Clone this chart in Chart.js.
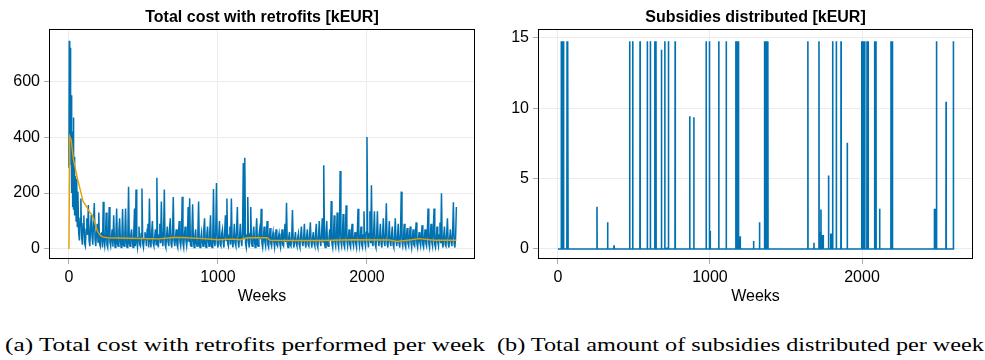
<!DOCTYPE html>
<html>
<head>
<meta charset="utf-8">
<script src="https://cdn.jsdelivr.net/npm/chart.js@4.4.0/dist/chart.umd.min.js"></script>
<style>
  body { margin: 0; width: 985px; height: 360px; background: #fff; overflow: hidden; position: relative; }
  .panel { position: absolute; top: 0; height: 310px; }
  #left { left: 0; width: 490px; }
  #right { left: 490px; width: 495px; }
  .caption { position: absolute; top: 334px; font-family: "Liberation Serif", serif; font-size: 19px; white-space: nowrap; transform-origin: 0 0; color: #000; }
</style>
</head>
<body>
<div class="panel" id="left"><canvas id="costChart"></canvas></div>
<div class="panel" id="right"><canvas id="subsidyChart"></canvas></div>
<div class="caption" style="left:5px" data-w="480">(a) Total cost with retrofits performed per week</div>
<div class="caption" style="left:497px" data-w="487">(b) Total amount of subsidies distributed per week</div>
<script>
const blue = "#0072b2";
const orange = "#e69f00";
const sans = "'Liberation Sans', Arial, sans-serif";

// first weeks are busy, so they get their own finer list
const earlyWeeks = [0, 2, 4, 6, 8, 10, 12, 14, 16, 18, 20, 22, 24, 26, 28, 30, 32, 34, 36, 38, 40, 44, 48, 52, 56];
const earlyCost = [290, 745, 300, 610, 420, 720, 380, 450, 250, 550, 200, 420, 150, 380, 180, 470, 140, 300, 160, 330, 120, 260, 100, 250, 80];

// cost from week 60 on, one value every 5 weeks (one row = 200 weeks)
const costStart = 60;
const costStep = 5;
const cost = [
  205, 60, 30, 110, 180, 40, 15, 90, 120, 20, 10, 70, 110, 50, 157, 30, 10, 80, 121, 45, 15, 100, 164, 35, 10, 60, 90, 25,
  130, 20, 10, 55, 60, 5, 169, 30, 10, 45, 130, 15, 5, 60, 150, 25, 10, 40, 70, 8, 120, 35, 5, 50, 145, 20, 10, 65, 110, 30, 5, 40, 143, 15, 10, 55, 145, 25, 5, 45,
  222, 20, 10, 50, 70, 30, 5, 60, 145, 10, 213, 25, 5, 40, 80, 15, 10, 55, 216, 20, 5, 35, 60, 45, 10, 70, 90, 5, 180, 30, 5, 60, 100, 20, 10, 40, 70, 15, 255, 30,
  5, 50, 90, 20, 170, 35, 10, 60, 213, 15, 5, 45, 80, 25, 10, 70, 110, 20, 5, 55, 186, 30, 10, 40, 70, 15, 5, 60, 100, 25, 10, 45, 187, 20, 5, 50, 80, 30, 10, 40,
  150, 25, 181, 15, 10, 60, 160, 30, 5, 45, 70, 20, 10, 55, 170, 15, 5, 40, 60, 25, 10, 70, 110, 20, 5, 50, 80, 30, 10, 60, 120, 15, 5, 45, 214, 25, 10, 60, 236, 20,
  5, 45, 100, 15, 10, 55, 70, 25, 5, 60, 120, 30, 180, 20, 10, 50, 80, 15, 180, 35, 5, 40, 90, 20, 10, 65, 150, 25, 5, 45, 90, 30, 10, 60, 307, 40, 326, 20, 5, 50,
  186, 25, 5, 55, 150, 20, 10, 45, 80, 30, 5, 60, 110, 15, 10, 50, 70, 35, 144, 20, 5, 40, 80, 25, 10, 55, 100, 15, 5, 45, 75, 20, 10, 40, 60, 25, 5, 35, 70, 15,
  10, 40, 55, 20, 5, 35, 70, 15, 10, 50, 90, 25, 165, 20, 5, 40, 60, 15, 10, 45, 139, 25, 5, 35, 60, 20, 10, 40, 55, 15, 5, 50, 80, 25, 10, 40, 90, 20, 5, 45,
  70, 15, 10, 50, 95, 25, 5, 40, 60, 20, 10, 55, 90, 15, 5, 45, 100, 30, 10, 50, 110, 25, 299, 20, 5, 55, 100, 15, 10, 40, 70, 30, 171, 20, 5, 45, 120, 25, 10, 50,
  130, 20, 5, 60, 279, 25, 10, 45, 125, 15, 5, 55, 156, 30, 10, 40, 70, 15, 5, 50, 90, 25, 10, 40, 60, 20, 5, 55, 144, 30, 10, 45, 80, 15, 5, 50, 135, 25, 10, 60,
  400, 30, 5, 55, 135, 20, 228, 25, 10, 60, 135, 15, 5, 50, 135, 30, 10, 45, 90, 20, 5, 55, 110, 25, 10, 60, 163, 20, 5, 40, 100, 25, 10, 50, 80, 15, 5, 45, 110, 30,
  10, 45, 90, 20, 5, 55, 205, 25, 10, 40, 90, 15, 5, 50, 75, 20, 10, 45, 80, 25, 5, 40, 70, 15, 10, 50, 95, 20, 5, 35, 60, 25, 10, 45, 85, 15, 5, 40, 70, 20,
  10, 55, 145, 20, 5, 45, 90, 25, 10, 60, 145, 15, 5, 40, 80, 25, 10, 50, 95, 20, 199, 25, 5, 45, 80, 15, 10, 55, 110, 20, 5, 40, 70, 25, 10, 60, 167, 20, 5, 45,
  150
];

// running average drawn in orange
const avgWeeks = [0, 5, 15, 30, 60, 95, 120, 140, 155, 170, 190, 210, 230, 260, 400, 600, 700, 760, 900, 1000, 1100, 1150, 1200, 1330, 1350, 1500, 1700, 1900, 2150, 2200, 2300, 2350, 2450, 2600];
const avgCost = [0, 402, 390, 320, 245, 170, 150, 130, 122, 100, 65, 48, 42, 40, 38, 36, 41, 41, 37, 33, 35, 33, 40, 40, 31, 30, 30, 33, 32, 27, 33, 37, 31, 31];

// weeks where subsidies were paid, everything else is zero
const subsidyWeeks = [22, 29, 37, 60, 66, 257, 327, 369, 472, 492, 540, 588, 608, 637, 645, 681, 703, 716, 727, 771,
  867, 894, 975, 995, 1001, 1058, 1107, 1170, 1179, 1186, 1190, 1199, 1287, 1326, 1359, 1364, 1370, 1375, 1381,
  1644, 1684, 1717, 1721, 1730, 1738, 1745, 1780, 1794, 1800, 1807, 1831, 1862, 1903, 1998, 2007, 2018, 2033, 2040,
  2083, 2092, 2116, 2191, 2200, 2476, 2483, 2490, 2553, 2601];
const subsidy = [14.75, 14.75, 14.75, 14.75, 14.75, 3.0, 1.9, 0.26, 14.75, 14.75, 14.75, 14.75, 14.75, 14.75, 14.75, 14.15, 14.75, 0.1, 14.75, 14.75,
  9.43, 9.35, 14.75, 14.75, 1.28, 14.75, 14.75, 14.75, 14.75, 14.75, 0.9, 0.9, 0.57, 1.9, 14.75, 14.75, 14.75, 14.75, 14.75,
  14.75, 0.45, 14.75, 1.2, 2.8, 1.0, 1.0, 5.21, 1.1, 1.1, 14.75, 14.75, 14.75, 7.54, 14.75, 14.75, 14.75, 14.75, 14.75,
  14.75, 14.75, 2.85, 14.75, 14.75, 2.85, 2.85, 14.75, 10.45, 14.75];
const lastWeek = 2601;

const costTicks = [0, 200, 400, 600];
const subsidyTicks = [0, 5, 10, 15];
const weekTicks = [0, 1000, 2000];

const costPoints = earlyWeeks.map((w, i) => ({ x: w, y: earlyCost[i] }))
  .concat(cost.map((v, i) => ({ x: costStart + i * costStep, y: v })));
const avgPoints = avgWeeks.map((w, i) => ({ x: w, y: avgCost[i] }));

const subsidyPoints = [{ x: 0, y: 0 }];
subsidyWeeks.forEach((w, i) => {
  subsidyPoints.push({ x: w - 1, y: 0 }, { x: w, y: subsidy[i] }, { x: w + 1, y: 0 });
});
subsidyPoints.push({ x: lastWeek, y: 0 });

// black box round the plot area
const frame = {
  id: "frame",
  afterDraw(chart) {
    const { ctx, chartArea: a } = chart;
    ctx.save();
    ctx.strokeStyle = "#000";
    ctx.lineWidth = 1;
    ctx.strokeRect(Math.round(a.left) + 0.5, Math.round(a.top) + 0.5,
      Math.round(a.right - a.left) - 1, Math.round(a.bottom - a.top) - 1);
    ctx.restore();
  }
};

const makeScales = (xMin, xMax, yMin, yMax, yTicks, yWidth) => ({
  x: {
    type: "linear",
    min: xMin,
    max: xMax,
    afterBuildTicks: (s) => { s.ticks = weekTicks.map((v) => ({ value: v })); },
    afterFit: (s) => { s.height = 51; },
    grid: { color: "#ebebeb", tickColor: "#aaa", tickLength: 5 },
    border: { display: false },
    ticks: { color: "#000", font: { family: sans, size: 16 }, padding: 4, maxRotation: 0, callback: (v) => String(v) },
    title: { display: true, text: "Weeks", color: "#000", font: { family: sans, size: 16 }, padding: { top: 0, bottom: 4 } }
  },
  y: {
    min: yMin,
    max: yMax,
    afterBuildTicks: (s) => { s.ticks = yTicks.map((v) => ({ value: v })); },
    afterFit: (s) => { s.width = yWidth; },
    grid: { color: "#ebebeb", tickColor: "#aaa", tickLength: 5 },
    border: { display: false },
    ticks: { color: "#000", font: { family: sans, size: 16 }, padding: 4, callback: (v) => String(v) }
  }
});

const makeTitle = (text) => ({
  display: true,
  text: text,
  fullSize: false,
  color: "#000",
  font: { family: sans, size: 16, weight: "bold" },
  padding: { top: 8, bottom: 2 }
});

new Chart(document.getElementById("costChart"), {
  type: "line",
  data: {
    datasets: [
      { data: avgPoints, borderColor: orange, borderWidth: 1.4, pointRadius: 0, order: 0 },
      { data: costPoints, borderColor: blue, borderWidth: 1.5, pointRadius: 0, order: 1 }
    ]
  },
  options: {
    responsive: true,
    maintainAspectRatio: false,
    animation: false,
    layout: { padding: { left: 0, right: 15, top: 0, bottom: 0 } },
    scales: makeScales(-134, 2725, -36, 786, costTicks, 49),
    plugins: { legend: { display: false }, tooltip: { enabled: false }, title: makeTitle("Total cost with retrofits [kEUR]") }
  },
  plugins: [frame]
});

new Chart(document.getElementById("subsidyChart"), {
  type: "line",
  data: {
    datasets: [
      { data: subsidyPoints, borderColor: blue, borderWidth: 1.6, pointRadius: 0 }
    ]
  },
  options: {
    responsive: true,
    maintainAspectRatio: false,
    animation: false,
    layout: { padding: { left: 0, right: 12, top: 0, bottom: 0 } },
    scales: makeScales(-131, 2730, -0.71, 15.6, subsidyTicks, 48),
    plugins: { legend: { display: false }, tooltip: { enabled: false }, title: makeTitle("Subsidies distributed [kEUR]") }
  },
  plugins: [frame]
});

// stretch the captions to the width of the LaTeX ones
document.querySelectorAll(".caption").forEach((el) => {
  const w = el.getBoundingClientRect().width;
  el.style.transform = `scaleX(${el.dataset.w / w})`;
});
</script>
</body>
</html>
